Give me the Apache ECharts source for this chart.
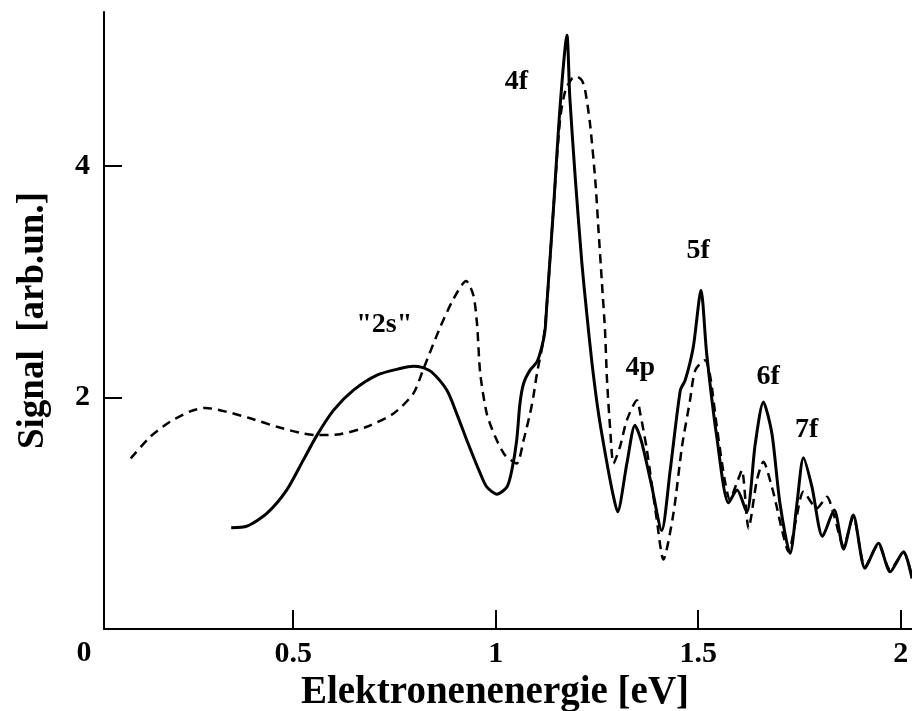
<!DOCTYPE html>
<html>
<head>
<meta charset="utf-8">
<script src="https://cdn.jsdelivr.net/npm/echarts@6.0.0/dist/echarts.min.js"></script>
<style>
  html, body { margin: 0; padding: 0; background: #fff; }
  #chart { width: 912px; height: 711px; }
</style>
</head>
<body>
<div id="chart"></div>
<script>
// solid curve
const solidX = [0.347, 0.386, 0.435, 0.484, 0.525, 0.559, 0.600, 0.649, 0.707, 0.764, 0.797, 0.818, 0.842,
  0.880, 0.905, 0.930, 0.962, 0.978, 1.003, 1.028, 1.040, 1.052, 1.060, 1.069, 1.085, 1.102, 1.114, 1.122,
  1.126, 1.143, 1.159, 1.176, 1.183, 1.197, 1.213, 1.225, 1.238, 1.254, 1.275, 1.291, 1.301, 1.324, 1.344,
  1.360, 1.385, 1.410, 1.431, 1.456, 1.468, 1.488, 1.507, 1.521, 1.546, 1.575, 1.596, 1.620, 1.641, 1.661,
  1.682, 1.702, 1.727, 1.744, 1.760, 1.781, 1.807, 1.836, 1.859, 1.883, 1.912, 1.945, 1.974, 2.007, 2.028];
const solidY = [0.875, 0.889, 0.999, 1.20, 1.459, 1.675, 1.891, 2.063, 2.193, 2.25, 2.27, 2.26, 2.22,
  2.06, 1.85, 1.62, 1.344, 1.228, 1.165, 1.228, 1.372, 1.631, 1.948, 2.121, 2.236, 2.307, 2.437, 2.581,
  2.782, 3.645, 4.508, 5.13, 4.6, 3.876, 3.157, 2.725, 2.293, 1.862, 1.43, 1.142, 1.013, 1.43, 1.761,
  1.62, 1.24, 0.85, 1.372, 2.063, 2.149, 2.437, 2.926, 2.38, 1.66, 1.09, 1.2, 1.01, 1.6, 1.962,
  1.69, 1.085, 0.653, 1.085, 1.48, 1.228, 0.8, 1.027, 0.69, 0.984, 0.524, 0.74, 0.495, 0.667, 0.437];

// dashed curve
const dashedX = [0.099, 0.147, 0.196, 0.246, 0.283, 0.336, 0.394, 0.460, 0.517, 0.559, 0.616, 0.682, 0.748,
  0.797, 0.822, 0.863, 0.896, 0.927, 0.945, 0.954, 0.962, 0.978, 0.999, 1.023, 1.052, 1.069, 1.085, 1.093,
  1.102, 1.118, 1.126, 1.143, 1.159, 1.172, 1.188, 1.200, 1.213, 1.221, 1.233, 1.246, 1.254, 1.262, 1.270,
  1.275, 1.283, 1.291, 1.307, 1.324, 1.349, 1.357, 1.373, 1.398, 1.414, 1.439, 1.460, 1.480, 1.493, 1.517,
  1.530, 1.546, 1.565, 1.578, 1.598, 1.608, 1.620, 1.624, 1.645, 1.661, 1.682, 1.694, 1.707, 1.723, 1.742,
  1.760, 1.793, 1.818, 1.834, 1.859, 1.883, 1.912, 1.945, 1.974, 2.007, 2.028];
const dashedY = [1.474, 1.66, 1.79, 1.88, 1.91, 1.876, 1.82, 1.747, 1.695, 1.675, 1.683, 1.747, 1.862,
  2.035, 2.25, 2.606, 2.852, 3.006, 2.883, 2.636, 2.207, 1.862, 1.66, 1.502, 1.43, 1.631, 1.862, 2.005,
  2.207, 2.5, 2.78, 3.645, 4.40, 4.65, 4.753, 4.773, 4.739, 4.653, 4.365, 3.876, 3.444, 3.013, 2.581,
  2.149, 1.718, 1.43, 1.574, 1.804, 1.977, 1.862, 1.557, 0.941, 0.60, 0.999, 1.574, 1.977, 2.236, 2.322,
  2.178, 1.75, 1.3, 1.12, 1.286, 1.372, 0.969, 0.869, 1.286, 1.444, 1.228, 1.056, 0.855, 0.667, 0.95,
  1.185, 1.042, 1.142, 1.0, 0.72, 0.97, 0.54, 0.73, 0.51, 0.66, 0.45];

// peak annotations
const peakNames = ['"2s"', '4f', '4p', '5f', '6f', '7f'];
const peakX = [0.725, 1.051, 1.357, 1.500, 1.673, 1.768];
const peakY = [2.624, 4.73, 2.253, 3.27, 2.178, 1.718];

const xTicks = [0.5, 1, 1.5, 2];
const yTicks = [2, 4];

const zip = (xs, ys) => xs.map((x, i) => [x, ys[i]]);
const font = "'Liberation Serif', 'Times New Roman', serif";

const chart = echarts.init(document.getElementById('chart'));
chart.setOption({
  animation: false,
  backgroundColor: '#fff',
  grid: { left: 104, right: 0, top: 12, bottom: 82, outerBoundsMode: 'none' },
  xAxis: {
    type: 'value',
    min: 0.033,
    max: 2.028,
    splitLine: { show: false },
    axisLine: { lineStyle: { color: '#000', width: 2 } },
    axisTick: { inside: true, length: 19, customValues: xTicks, lineStyle: { color: '#000', width: 2 } },
    axisLabel: { customValues: xTicks, color: '#000', fontSize: 30, fontWeight: 'bold', fontFamily: font, margin: 10 },
    name: 'Elektronenenergie [eV]',
    nameLocation: 'middle',
    nameGap: 28,
    nameTextStyle: { color: '#000', fontSize: 39, fontWeight: 'bold', fontFamily: font, padding: [0, 26, 0, 0] }
  },
  yAxis: {
    type: 'value',
    min: 0,
    max: 5.33,
    splitLine: { show: false },
    axisLine: { lineStyle: { color: '#000', width: 2 } },
    axisTick: { inside: true, length: 18, customValues: yTicks, lineStyle: { color: '#000', width: 2 } },
    axisLabel: { customValues: yTicks, color: '#000', fontSize: 30, fontWeight: 'bold', fontFamily: font, margin: 14 },
    name: 'Signal  [arb.un.]',
    nameLocation: 'middle',
    nameGap: 52,
    nameTextStyle: { color: '#000', fontSize: 37, fontWeight: 'bold', fontFamily: font }
  },
  graphic: [{
    type: 'text',
    x: 84,
    y: 653,
    style: { text: '0', fill: '#000', fontSize: 30, fontWeight: 'bold', fontFamily: font, align: 'center', verticalAlign: 'middle' }
  }],
  series: [
    {
      type: 'line',
      data: zip(dashedX, dashedY),
      showSymbol: false,
      smooth: 0.25,
      lineStyle: { color: '#000', width: 2.5, type: [9, 6] }
    },
    {
      type: 'line',
      data: zip(solidX, solidY),
      showSymbol: false,
      smooth: 0.25,
      lineStyle: { color: '#000', width: 3 }
    },
    {
      type: 'scatter',
      data: peakX.map((x, i) => [x, peakY[i], peakNames[i]]),
      symbolSize: 0,
      silent: true,
      itemStyle: { opacity: 1 },
      label: {
        show: true,
        position: 'inside',
        formatter: p => p.data[2],
        color: '#000',
        opacity: 1,
        fontSize: 28,
        fontWeight: 'bold',
        fontFamily: font
      }
    }
  ]
});
</script>
</body>
</html>
